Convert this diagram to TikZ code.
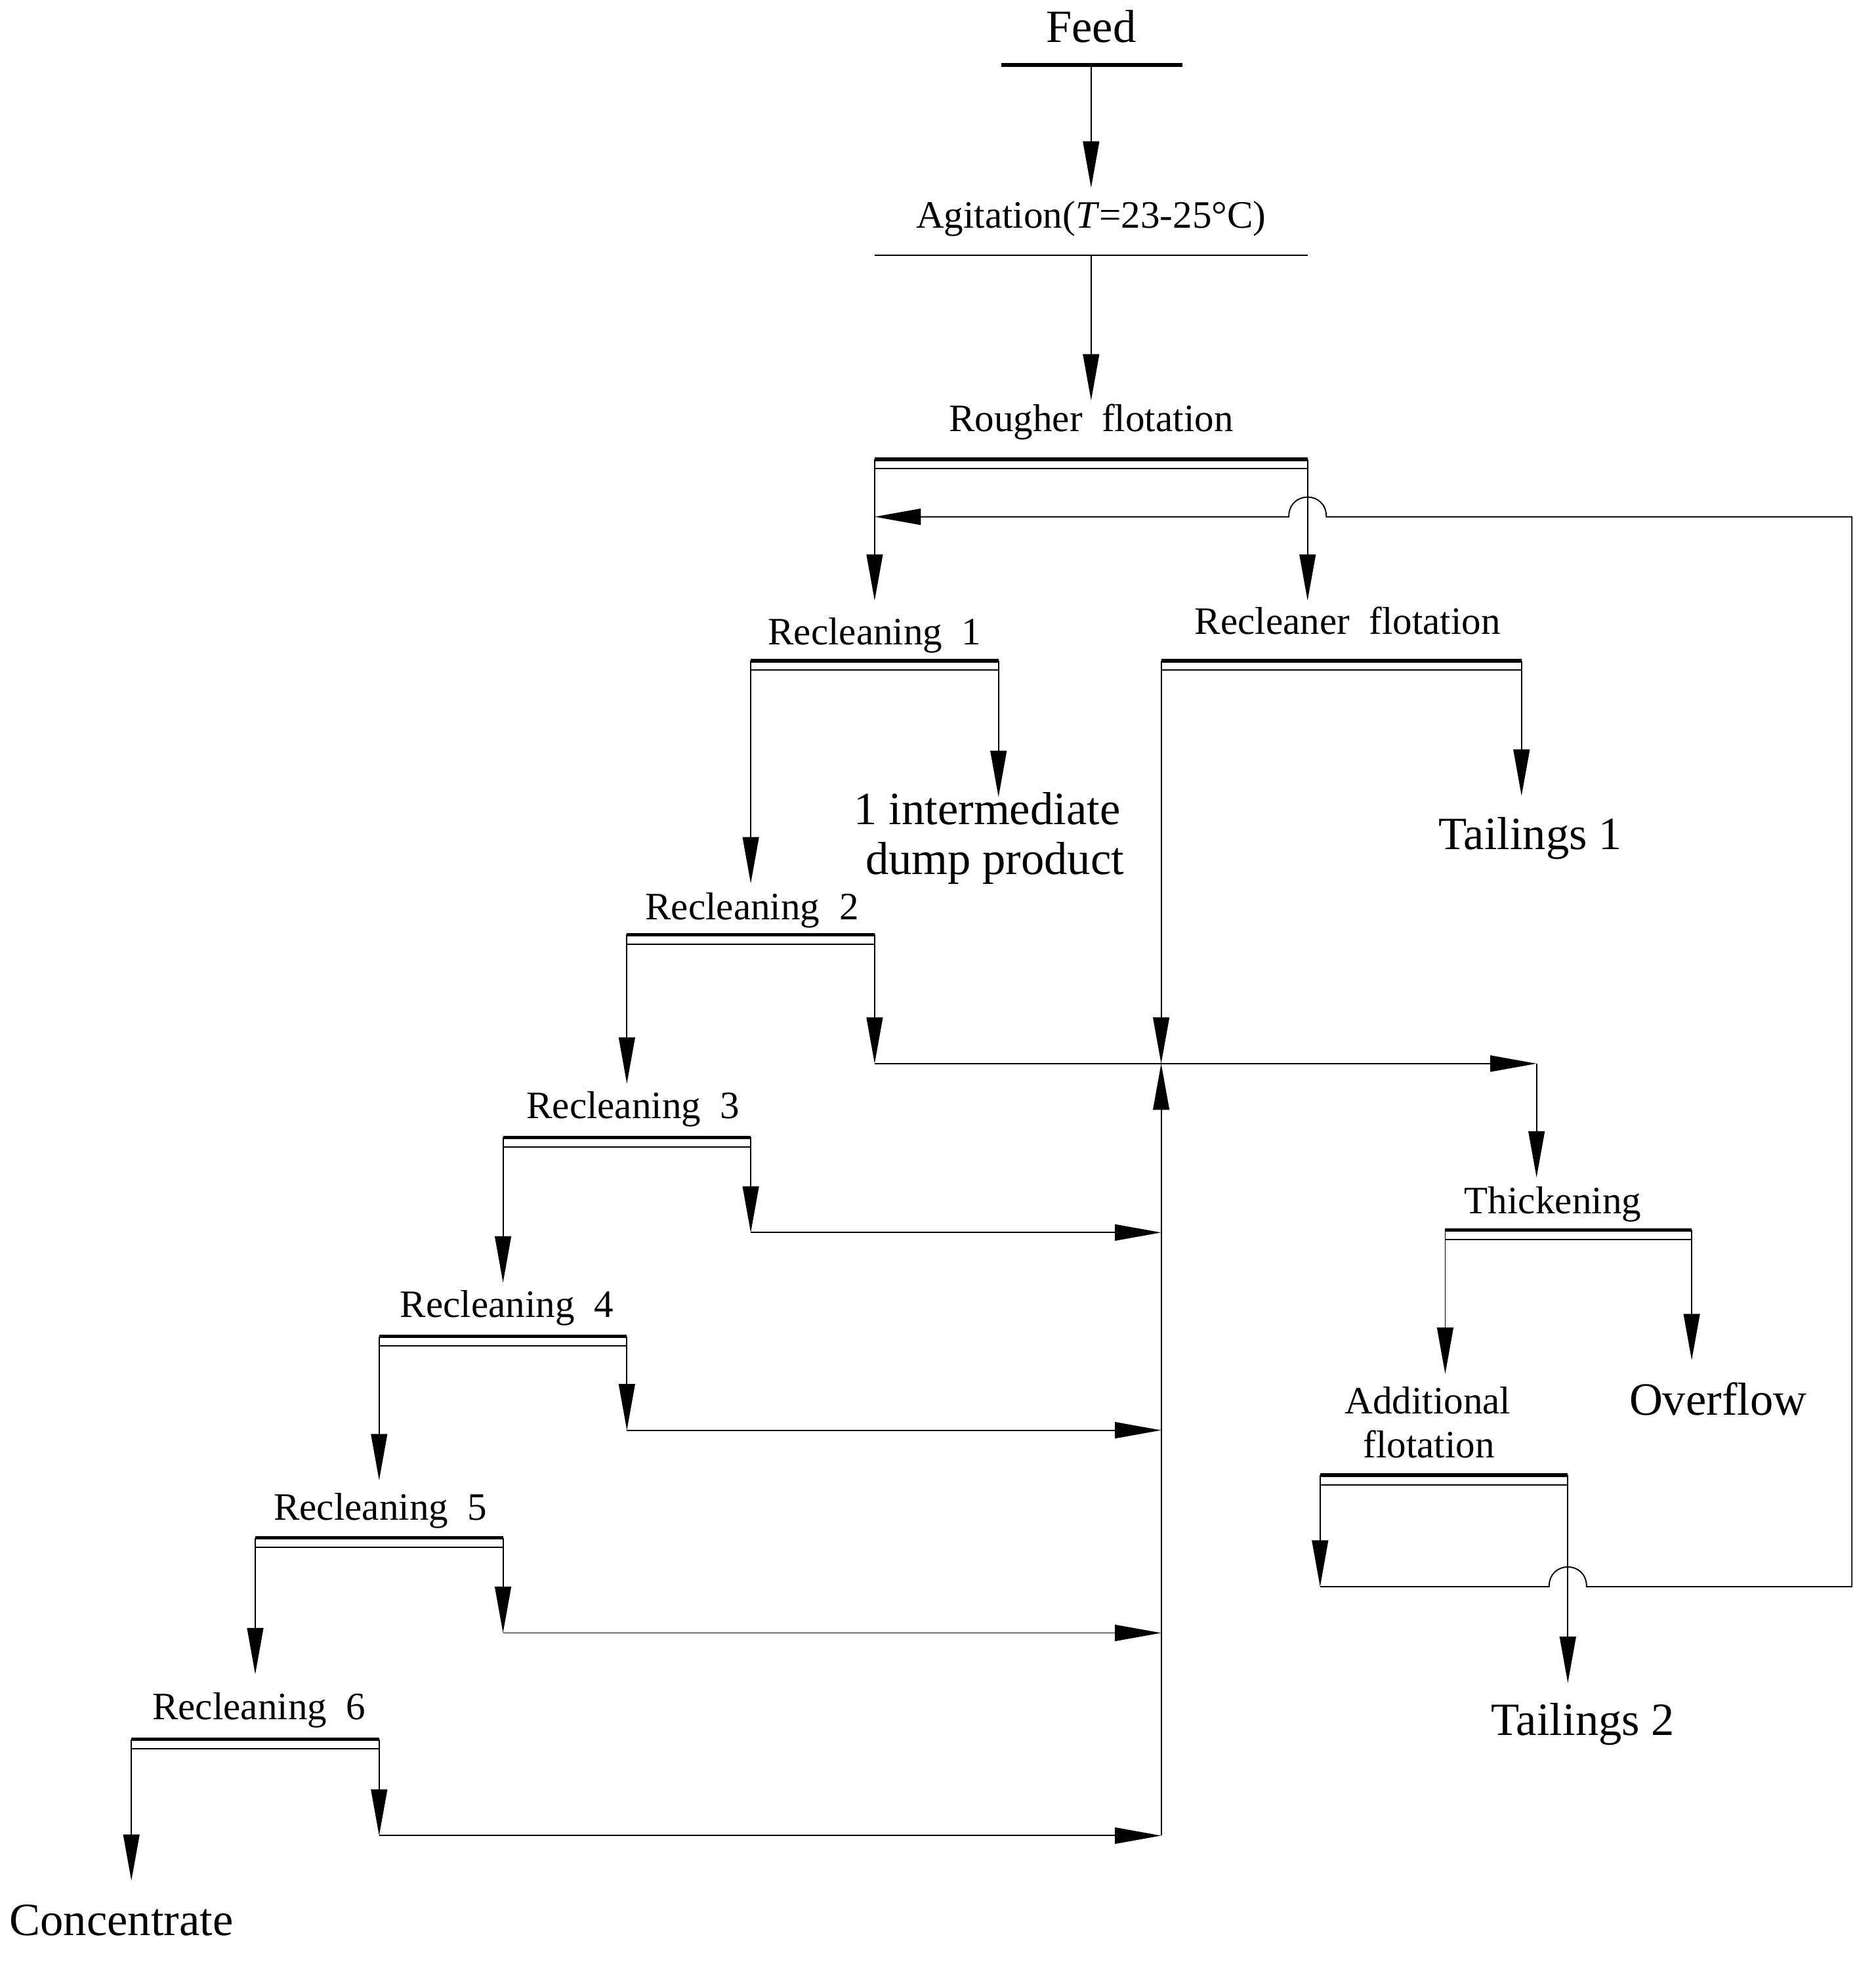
\documentclass[tikz,border=0pt]{standalone}
\usepackage{fontspec}
\setmainfont{Liberation Serif}
\usetikzlibrary{arrows.meta}
\newcommand\opunit[4]{% name, x left, x right, y
  \coordinate (#1-l) at (#2,#4);
  \coordinate (#1-r) at (#3,#4);
  \draw[thickbar] (#1-l) -- (#1-r);
  \draw[thinbar] (#2,#4+7.5) -- (#3,#4+7.5);
}
\begin{document}
\begin{tikzpicture}[x=1pt,y=-1pt,
  small/.style={font=\fontsize{31}{34}\selectfont, inner sep=0pt, anchor=base},
  big/.style={font=\fontsize{37}{40}\selectfont, inner sep=0pt, anchor=base},
  pipe/.style={line width=1pt},
  flow/.style={pipe, -{Triangle[length=37pt,width=13pt]}},
  thickbar/.style={line width=3pt},
  thinbar/.style={line width=1pt}]
\useasboundingbox (0,0) rectangle (1499,1568);

% ---- labels ----
\node[big]   (feed)  at (872,34)   {Feed};
\node[small] (agit)  at (872,182)  {Agitation(\textit{T}=23-25°C)};
\node[small] (rou)   at (872,345)  {Rougher\ \ flotation};
\node[small] (rc1t)  at (699,515)  {Recleaning\ \ 1};
\node[small] (rft)   at (1077,507) {Recleaner\ \ flotation};
\node[small] (rc2t)  at (601,735)  {Recleaning\ \ 2};
\node[small] (rc3t)  at (506,894)  {Recleaning\ \ 3};
\node[small] (rc4t)  at (405,1053) {Recleaning\ \ 4};
\node[small] (rc5t)  at (304,1215) {Recleaning\ \ 5};
\node[small] (rc6t)  at (207,1374) {Recleaning\ \ 6};
\node[small] (tht)   at (1241,970) {Thickening};
\node[small] (aft1)  at (1141,1130) {Additional};
\node[small] (aft2)  at (1142,1165) {flotation};
\node[big]   (ovf)   at (1373,1131) {Overflow};
\node[big]   (tl1)   at (1223,679) {Tailings 1};
\node[big]   (tl2)   at (1265,1387) {Tailings 2};
\node[big]   (int1)  at (789,659)  {1 intermediate};
\node[big]   (int2)  at (795,699)  {dump product};
\node[big]   (conc)  at (97,1547)  {Concentrate};

% ---- unit bars ----
\coordinate (feed-o) at (872,52);
\draw[thickbar] (800,52) -- (945,52);
\coordinate (agit-o) at (872,204);
\draw[line width=0.8pt] (699,204) -- (1045,204);
\opunit{ro}{699}{1045}{367}
\opunit{rc1}{600}{798}{528}
\opunit{rf}{928}{1216}{528}
\opunit{rc2}{501}{699}{747}
\opunit{rc3}{402}{600}{909}
\opunit{rc4}{303}{501}{1068}
\opunit{rc5}{204}{402}{1229}
\opunit{rc6}{105}{303}{1390}
\opunit{th}{1155}{1352}{983}
\opunit{af}{1055}{1253}{1179}

% ---- arrow end points ----
\coordinate (agit-in) at (872,150);
\coordinate (ro-in)   at (872,320);
\coordinate (rc1-in)  at (699,480);
\coordinate (rf-in)   at (1045,480);
\coordinate (rc2-in)  at (600,706);
\coordinate (int-in)  at (798,637);
\coordinate (J)       at (928,850);
\coordinate (tl1-in)  at (1216,636);
\coordinate (rc3-in)  at (501,866);
\coordinate (K)       at (699,850);
\coordinate (M)       at (1228,850);
\coordinate (th-in)   at (1228,941);
\coordinate (rc4-in)  at (402,1025);
\coordinate (m3)      at (600,985);
\coordinate (j3)      at (928,985);
\coordinate (rc5-in)  at (303,1183);
\coordinate (m4)      at (501,1143);
\coordinate (j4)      at (928,1143);
\coordinate (rc6-in)  at (204,1338);
\coordinate (m5)      at (402,1305);
\coordinate (j5)      at (928,1305);
\coordinate (conc-in) at (105,1503);
\coordinate (m6)      at (303,1467);
\coordinate (j6)      at (928,1467);
\coordinate (af-in)   at (1155,1098);
\coordinate (ovf-in)  at (1352,1087);
\coordinate (afc)     at (1055,1268);
\coordinate (tl2-in)  at (1253,1345);
\coordinate (rcy)     at (699,413);

% ---- connectors ----
\draw[flow] (feed-o) -- (agit-in);
\draw[flow] (agit-o) -- (ro-in);
\draw[flow] (ro-l) -- (rc1-in);
\draw[flow] (ro-r) -- (rf-in);
\draw[flow] (rc1-l) -- (rc2-in);
\draw[flow] (rc1-r) -- (int-in);
\draw[flow] (rf-l) -- (J);
\draw[flow] (rf-r) -- (tl1-in);
\draw[flow] (rc2-l) -- (rc3-in);
\draw[flow] (rc2-r) -- (K);
\draw[flow] (K) -- (M);
\draw[flow] (M) -- (th-in);
\draw[flow] (rc3-l) -- (rc4-in);
\draw[flow] (rc3-r) -- (m3);
\draw[flow] (m3) -- (j3);
\draw[flow] (rc4-l) -- (rc5-in);
\draw[flow] (rc4-r) -- (m4);
\draw[flow] (m4) -- (j4);
\draw[flow] (rc5-l) -- (rc6-in);
\draw[flow] (rc5-r) -- (m5);
\draw[flow] (m5) -- (j5);
\draw[flow] (rc6-l) -- (conc-in);
\draw[flow] (rc6-r) -- (m6);
\draw[flow] (m6) -- (j6);
\draw[flow] (j6) -- (J);
\draw[flow] (th-l) -- (af-in);
\draw[flow] (th-r) -- (ovf-in);
\draw[flow] (af-l) -- (afc);
\draw[flow] (af-r) -- (tl2-in);
\draw[flow] (afc) -- (1238,1268) .. controls (1238,1247) and (1268,1247) .. (1268,1268)
  -- (1480,1268) -- (1480,413) -- (1060,413)
  .. controls (1060,392) and (1030,392) .. (1030,413) -- (rcy);
\end{tikzpicture}
\end{document}
